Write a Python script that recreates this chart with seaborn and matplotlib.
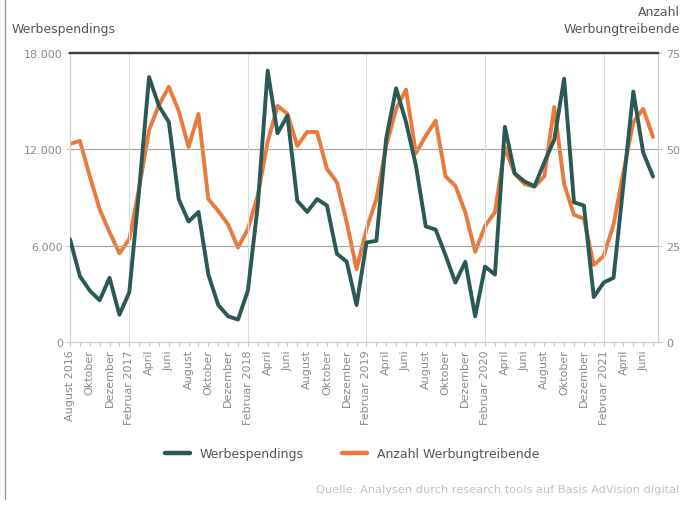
import matplotlib
matplotlib.use("Agg")
import matplotlib.pyplot as plt
import matplotlib.lines as mlines
import seaborn as sns
import pandas as pd
import numpy as np

# Monthly series, August 2016 - July 2021
months = ["August 2016", "", "Oktober", "", "Dezember", "", "Februar 2017", "", "April", "", "Juni", "",
          "August", "", "Oktober", "", "Dezember", "", "Februar 2018", "", "April", "", "Juni", "",
          "August", "", "Oktober", "", "Dezember", "", "Februar 2019", "", "April", "", "Juni", "",
          "August", "", "Oktober", "", "Dezember", "", "Februar 2020", "", "April", "", "Juni", "",
          "August", "", "Oktober", "", "Dezember", "", "Februar 2021", "", "April", "", "Juni", ""]

werbespendings = [6400, 4100, 3200, 2600, 4000, 1700, 3100, 9500, 16500, 14700, 13700, 8900,
                  7500, 8100, 4200, 2300, 1600, 1400, 3200, 8500, 16900, 13000, 14100, 8800,
                  8100, 8900, 8500, 5500, 5000, 2300, 6200, 6300, 12700, 15800, 13700, 11000,
                  7200, 7000, 5400, 3700, 5000, 1600, 4700, 4200, 13400, 10500, 10000, 9700,
                  11200, 12600, 16400, 8700, 8500, 2800, 3700, 4000, 9800, 15600, 11800, 10300]

werbungtreibende = [51.4, 52.2, 43.0, 34.5, 28.5, 23.0, 26.7, 40.0, 55.0, 61.5, 66.2, 60.0,
                    50.6, 59.2, 37.1, 34.0, 30.5, 24.5, 29.3, 38.0, 51.9, 61.3, 59.2, 50.9,
                    54.5, 54.5, 44.9, 41.5, 31.1, 18.9, 29.3, 37.1, 50.9, 60.5, 65.5, 49.0,
                    53.5, 57.4, 43.0, 40.5, 33.7, 23.4, 30.1, 33.7, 50.5, 43.6, 41.0, 40.3,
                    43.0, 61.0, 41.0, 33.0, 32.0, 20.0, 22.3, 30.5, 44.0, 57.0, 60.5, 53.2]

left_ticks = [0, 6000, 12000, 18000]
left_labels = ["0", "6.000", "12.000", "18.000"]
right_ticks = [0, 25, 50, 75]

DARK = "#2b5955"
ORANGE = "#e97a3c"
GRAYTXT = "#8a8a8a"

sns.set_theme(style="white")
plt.rcParams["font.family"] = ["Liberation Sans Narrow", "DejaVu Sans"]

df = pd.DataFrame({"m": np.arange(len(werbespendings)),
                   "spend": werbespendings, "count": werbungtreibende})

fig = plt.figure(figsize=(6.83, 5.06), dpi=100)
ax = fig.add_axes([0.1025, 0.3221, 0.8609, 0.5712])
ax2 = ax.twinx()

sns.lineplot(data=df, x="m", y="spend", ax=ax, color=DARK, linewidth=2.8, zorder=3)
sns.lineplot(data=df, x="m", y="count", ax=ax2, color=ORANGE, linewidth=2.8, zorder=2)
ax.set_zorder(ax2.get_zorder() + 1)
ax.patch.set_visible(False)

ax.set_xlim(0, 59.5)
ax.set_ylim(0, 18000)
ax2.set_ylim(0, 75)

ax.set_xticks(np.arange(0, 60, 2))
ax.set_xticklabels(months[::2], rotation=90, fontsize=8, color=GRAYTXT)
ax.set_xticks(np.arange(0, 60, 1), minor=True)
ax.tick_params(axis="x", which="both", direction="out", length=3, width=0.6,
               color="#bbbbbb", bottom=True, pad=2)

ax.set_yticks(left_ticks)
ax.set_yticklabels(left_labels, fontsize=8, color=GRAYTXT)
ax.tick_params(axis="y", length=3, width=0.6, color="#bbbbbb", left=True, pad=2)
ax2.set_yticks(right_ticks)
ax2.set_yticklabels([str(t) for t in right_ticks], fontsize=8, color=GRAYTXT)
ax2.tick_params(axis="y", length=3, width=0.6, color="#bbbbbb", right=True, pad=3)

ax.set_xlabel("")
ax.set_ylabel("")
ax2.set_ylabel("")

# grid: horizontal at the inner ticks, vertical at each February
for v in [6000, 12000]:
    ax.axhline(v, color="#a8a8a8", linewidth=0.9, zorder=1)
for m in [6, 18, 30, 42, 54]:
    ax.axvline(m, color="#dcdcdc", linewidth=0.8, zorder=1)

for a in (ax, ax2):
    for side in ("left", "right", "bottom"):
        a.spines[side].set_color("#cfcfcf")
        a.spines[side].set_linewidth(0.8)
    a.spines["top"].set_color("#3c3c3c")
    a.spines["top"].set_linewidth(1.6)

# axis titles
fig.text(12 / 683, 1 - 30 / 506, "Werbespendings", fontsize=9, color="#555555",
         ha="left", va="center")
fig.text(680 / 683, 1 - 12 / 506, "Anzahl", fontsize=9, color="#555555",
         ha="right", va="center")
fig.text(680 / 683, 1 - 30 / 506, "Werbungtreibende", fontsize=9, color="#555555",
         ha="right", va="center")

# legend
h1 = mlines.Line2D([], [], color=DARK, linewidth=3.2)
h2 = mlines.Line2D([], [], color=ORANGE, linewidth=3.2)
fig.legend([h1, h2], ["Werbespendings", "Anzahl Werbungtreibende"],
           loc="center", bbox_to_anchor=(352 / 683, 1 - 455 / 506), ncol=2,
           frameon=False, fontsize=9, handlelength=2.0, columnspacing=3.0,
           labelcolor="#555555")

# source line
fig.text(679 / 683, 1 - 490 / 506,
         "Quelle: Analysen durch research tools auf Basis AdVision digital",
         fontsize=8.2, color="#c4c4c4", ha="right", va="center")

# frame line on the left edge
fig.add_artist(mlines.Line2D([5 / 683, 5 / 683], [1 - 500 / 506, 1.0],
                             color="#9a9a9a", linewidth=1.0))

fig.savefig("out.png", dpi=100)
